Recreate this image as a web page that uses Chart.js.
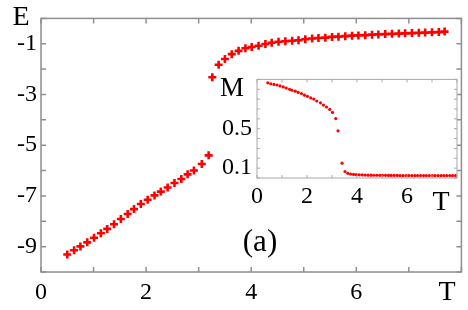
<!DOCTYPE html>
<html>
<head>
<meta charset="utf-8">
<script src="https://cdn.jsdelivr.net/npm/chart.js@4"></script>
<style>
  html, body { margin: 0; padding: 0; background: #fff; }
  #wrap { position: relative; width: 468px; height: 310px; }
  #main { position: absolute; left: 0; top: 0; }
  #inset { position: absolute; left: 200px; top: 60px; }
</style>
</head>
<body>
<div id="wrap">
  <canvas id="main" width="468" height="310"></canvas>
  <canvas id="inset" width="262" height="160"></canvas>
</div>
<script>
// main panel: energy E vs temperature T
const tLow = [0.50, 0.63, 0.75, 0.88, 1.01, 1.14, 1.26, 1.39, 1.52, 1.65, 1.77,
              1.90, 2.03, 2.16, 2.28, 2.41, 2.54, 2.67, 2.79, 2.91, 3.06, 3.19];
const eLow = [-9.31, -9.14, -8.99, -8.83, -8.65, -8.47, -8.30, -8.12, -7.91, -7.71, -7.52,
              -7.32, -7.15, -6.98, -6.83, -6.67, -6.49, -6.33, -6.15, -6.00, -5.74, -5.40];
const tHigh = [3.26, 3.38, 3.50, 3.63, 3.76, 3.89, 4.01, 4.14, 4.27, 4.39, 4.52, 4.65,
               4.78, 4.90, 5.03, 5.16, 5.28, 5.41, 5.54, 5.66, 5.79, 5.92, 6.04, 6.17,
               6.30, 6.42, 6.55, 6.68, 6.81, 6.93, 7.06, 7.19, 7.31, 7.44, 7.57, 7.68];
const eHigh = [-2.32, -1.83, -1.60, -1.41, -1.28, -1.18, -1.13, -1.08, -1.01, -0.96, -0.92, -0.90,
               -0.88, -0.86, -0.82, -0.79, -0.77, -0.76, -0.73, -0.72, -0.70, -0.68, -0.67, -0.66,
               -0.64, -0.63, -0.62, -0.61, -0.60, -0.59, -0.58, -0.57, -0.56, -0.55, -0.54, -0.52];
const xLabelsMain = [0, 2, 4, 6];
const yLabelsMain = [-1, -3, -5, -7, -9];

// inset: magnetisation M vs T
const mT = [0.43, 0.55, 0.68, 0.80, 0.92, 1.05, 1.17, 1.30, 1.40, 1.53, 1.65, 1.78, 1.90, 2.02,
            2.15, 2.27, 2.39, 2.54, 2.66, 2.78, 2.91, 3.02, 3.15, 3.24, 3.40, 3.52, 3.63, 3.74,
            3.86, 3.97, 4.09, 4.21, 4.32, 4.44, 4.56, 4.67, 4.79, 4.91, 5.02, 5.14, 5.26, 5.37,
            5.49, 5.61, 5.72, 5.84, 5.96, 6.07, 6.19, 6.31, 6.42, 6.54, 6.66, 6.77, 6.89, 7.01,
            7.12, 7.24, 7.36, 7.47, 7.59, 7.71, 7.82, 7.94];
const mVal = [0.965, 0.956, 0.949, 0.943, 0.934, 0.924, 0.912, 0.900, 0.890, 0.881, 0.868, 0.856, 0.840, 0.828,
              0.812, 0.800, 0.781, 0.762, 0.740, 0.720, 0.695, 0.665, 0.603, 0.478, 0.150, 0.066, 0.047, 0.040,
              0.036, 0.034, 0.032, 0.031, 0.030, 0.029, 0.029, 0.028, 0.028, 0.027, 0.027, 0.027, 0.026, 0.026,
              0.026, 0.026, 0.025, 0.025, 0.025, 0.025, 0.025, 0.025, 0.025, 0.025, 0.025, 0.025, 0.025, 0.025,
              0.025, 0.025, 0.025, 0.025, 0.025, 0.025, 0.025, 0.025];
const xLabelsInset = [0, 2, 4, 6];
const yLabelsInset = [0.1, 0.5];

const serif = '"Liberation Serif", "Times New Roman", serif';
const pts = (xs, ys) => xs.map((x, i) => ({x: x, y: ys[i]}));
const hasLabel = (list, v) => list.some(l => Math.abs(l - v) < 1e-6);

// box round the plot area, with small ticks pointing inwards on all four sides
const frame = {
  id: 'frame',
  beforeDraw(chart, args, opts) {
    if (!opts.fill) return;
    const {ctx, chartArea: a} = chart;
    ctx.save();
    ctx.fillStyle = opts.fill;
    ctx.fillRect(a.left, a.top, a.width, a.height);
    ctx.restore();
  },
  afterDraw(chart, args, opts) {
    const {ctx, chartArea: a, scales} = chart;
    ctx.save();
    ctx.strokeStyle = opts.color;
    ctx.lineWidth = opts.width;
    ctx.beginPath();
    scales.x.ticks.forEach(t => {
      const px = scales.x.getPixelForValue(t.value);
      ctx.moveTo(px, a.bottom); ctx.lineTo(px, a.bottom - opts.len);
      ctx.moveTo(px, a.top); ctx.lineTo(px, a.top + opts.len);
    });
    scales.y.ticks.forEach(t => {
      const py = scales.y.getPixelForValue(t.value);
      ctx.moveTo(a.left, py); ctx.lineTo(a.left + opts.len, py);
      ctx.moveTo(a.right, py); ctx.lineTo(a.right - opts.len, py);
    });
    ctx.stroke();
    ctx.strokeRect(a.left, a.top, a.width, a.height);
    ctx.restore();
  }
};

// loose text items (axis letters, panel tag)
const texts = {
  id: 'texts',
  afterDraw(chart, args, opts) {
    const ctx = chart.ctx;
    ctx.save();
    ctx.fillStyle = '#000';
    ctx.textAlign = 'center';
    ctx.textBaseline = 'middle';
    opts.items.forEach(it => {
      ctx.font = it.size + 'px ' + serif;
      ctx.fillText(it.text, it.x, it.y);
    });
    ctx.restore();
  }
};

new Chart(document.getElementById('main'), {
  type: 'scatter',
  data: {
    datasets: [{
      data: pts(tLow.concat(tHigh), eLow.concat(eHigh)),
      pointStyle: 'cross',
      pointRadius: 4,
      borderWidth: 2.6,
      borderColor: '#ff0000',
      backgroundColor: '#ff0000'
    }]
  },
  options: {
    responsive: false,
    animation: false,
    events: [],
    layout: { padding: { top: 16, right: 6, left: 0, bottom: 0 } },
    scales: {
      x: {
        type: 'linear', min: 0, max: 8,
        grid: { display: false, drawTicks: false },
        border: { display: false },
        afterFit(s) { s.height = 38; },
        ticks: {
          stepSize: 1, autoSkip: false, maxRotation: 0, padding: 6, color: '#000',
          font: { family: serif, size: 24 },
          callback: v => hasLabel(xLabelsMain, v) ? String(v) : ''
        }
      },
      y: {
        type: 'linear', min: -10, max: 0,
        grid: { display: false, drawTicks: false },
        border: { display: false },
        afterFit(s) { s.width = 41; },
        ticks: {
          stepSize: 1, autoSkip: false, padding: 4, color: '#000',
          font: { family: serif, size: 24 },
          callback: v => hasLabel(yLabelsMain, v) ? String(v) : ''
        }
      }
    },
    plugins: {
      legend: { display: false },
      tooltip: { enabled: false },
      frame: { color: '#8f8f8f', width: 1.5, len: 5 },
      texts: { items: [
        { text: 'E', x: 21, y: 18, size: 28 },
        { text: 'T', x: 447, y: 293, size: 28 },
        { text: '(a)', x: 260, y: 243, size: 31 }
      ] }
    }
  },
  plugins: [frame, texts]
});

new Chart(document.getElementById('inset'), {
  type: 'scatter',
  data: {
    datasets: [{
      data: pts(mT, mVal),
      pointStyle: 'circle',
      pointRadius: 1.6,
      borderWidth: 0,
      backgroundColor: '#ff0000'
    }]
  },
  options: {
    responsive: false,
    animation: false,
    events: [],
    layout: { padding: { top: 14, right: 5, left: 0, bottom: 0 } },
    scales: {
      x: {
        type: 'linear', min: 0, max: 8,
        grid: { display: false, drawTicks: false },
        border: { display: false },
        afterFit(s) { s.height = 42; },
        ticks: {
          stepSize: 1, autoSkip: false, maxRotation: 0, padding: 4, color: '#000',
          font: { family: serif, size: 24 },
          callback: v => hasLabel(xLabelsInset, v) ? String(v) : ''
        }
      },
      y: {
        type: 'linear', min: 0, max: 1,
        grid: { display: false, drawTicks: false },
        border: { display: false },
        afterFit(s) { s.width = 57; },
        ticks: {
          stepSize: 0.1, autoSkip: false, padding: 5, color: '#000',
          font: { family: serif, size: 24 },
          callback: v => hasLabel(yLabelsInset, v) ? String(Math.round(v * 10) / 10) : ''
        }
      }
    },
    plugins: {
      legend: { display: false },
      tooltip: { enabled: false },
      frame: { color: '#a8a8a8', width: 1, len: 3, fill: '#ffffff' },
      texts: { items: [
        { text: 'M', x: 32, y: 29, size: 27 },
        { text: 'T', x: 241, y: 143, size: 28 }
      ] }
    }
  },
  plugins: [frame, texts]
});
</script>
</body>
</html>
